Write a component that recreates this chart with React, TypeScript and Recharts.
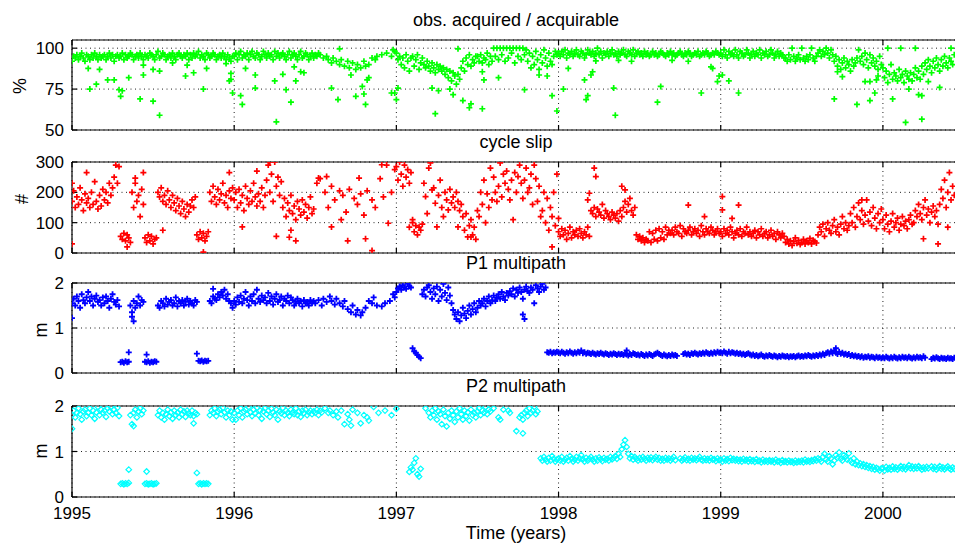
import React from 'react';
import { ScatterChart, Scatter, XAxis, YAxis, CartesianGrid } from 'recharts';

// ---------- tick labels / categories ----------
const YEAR_TICKS = [1995, 1996, 1997, 1998, 1999, 2000];
const ACQ_TICKS = [50, 75, 100];
const SLIP_TICKS = [0, 100, 200, 300];
const MP_TICKS = [0, 1, 2];
const TITLES = ['obs. acquired / acquirable', 'cycle slip', 'P1 multipath', 'P2 multipath'];

// ---------- data: values sampled every 0.01 year from the start of each year ----------
const acq1995 = [92,95,94,96,93,95,97,94,92,96,95,93,96,94,97,95,93,96,94,95,96,93,95,97,94,96,92,95,96,94,
95,97,93,96,94,95,97,96,93,95,96,94,97,95,93,96,95,94,97,96,95,93,96,98,94,95,97,96,93,95,
96,94,97,95,93,96,97,95,94,96,95,97,93,96,94,97,95,96,98,94,96,95,93,97,96,94,95,97,96,93,95,96,94,97,95,93,96,94,92,95];
const acq1996 = [95,97,93,96,98,94,96,95,97,93,96,98,95,94,97,96,93,95,98,96,94,97,95,96,93,98,95,97,94,96,
97,95,93,96,98,94,96,97,95,93,96,98,94,95,97,96,93,95,97,94,96,95,97,
96,null,94,null,95,93,null,91,94,null,92,null,90,93,null,89,null,92,88,null,91,null,87,90,null,88,null,92,89,null,90,null,94,null,93,95,null,
null,96,null,null,97,null,null,95,99,98];
const acq1997 = [97,93,95,90,94,88,96,92,86,94,95,89,93,96,87,91,94,90,88,92,89,86,91,88,85,90,87,89,86,88,
84,87,82,86,80,85,83,78,84,81,88,92,86,94,90,96,89,93,91,95,95,92,96,91,94,93,97,90,95,92,
100,95,100,93,100,96,100,92,100,94,100,97,100,91,100,95,100,93,100,96,99,92,97,88,95,90,98,93,87,96,91,99,94,89,97,92,90,95,98,96];
const acq1998 = [97,95,98,96,99,94,97,96,98,95,97,99,96,95,98,97,94,96,99,97,96,98,95,97,100,96,98,94,97,96,
98,95,97,99,96,97,95,98,96,97,99,96,95,98,97,96,99,95,97,98,96,97,95,98,96,97,95,96,98,96,
97,95,96,98,97,96,95,97,96,98,96,97,95,96,97,98,96,95,97,96,98,97,95,96,97,96,98,95,96,97,96,98,97,95,96,97,96,98,97,96];
const acq1999 = [97,95,99,96,94,98,96,97,95,99,96,94,98,97,95,96,99,97,94,96,98,95,97,96,99,94,97,96,98,95,
96,99,97,94,96,98,95,97,96,94,94,92,96,93,100,95,92,94,96,93,100,94,92,95,93,96,100,94,92,95,
97,99,95,98,96,100,97,94,99,96,92,95,89,93,87,91,94,88,92,90,86,93,89,91,94,99,92,95,90,97,93,88,96,91,94,89,92,87,95,90];
const acq2000 = [88,82,86,79,84,90,81,85,83,80,87,82,84,79,86,83,81,85,80,84,88,82,86,81,89,84,
91,87,93,89,85,92,88,94,90,86,93,89,95,91,88,94,92,90,96];
const acqOutliers: [number, number][] = [
[1995.10,87.6],[1995.11,75],[1995.15,78],[1995.17,87],[1995.22,80.6],[1995.26,80.6],[1995.29,74.6],[1995.31,74],
[1995.35,82],[1995.30,70.6],[1995.42,69],[1995.44,83.6],[1995.44,89.6],[1995.50,67.6],[1995.54,59],[1995.50,87],
[1995.54,86],[1995.62,91],[1995.70,83],[1995.75,85],[1995.81,75],[1995.83,87.6],[1995.71,89.6],[1995.95,90.6],
[1995.97,80],[1995.98,81],[1995.99,72.6],[1995.98,84.6],
[1996.04,71],[1996.05,65.6],[1996.07,87.6],[1996.13,83.6],[1996.13,75.6],[1996.25,80],[1996.26,55],[1996.30,84],
[1996.32,74.6],[1996.35,67],[1996.37,88.6],[1996.38,80],[1996.41,85.6],[1996.43,85],[1996.60,75.6],[1996.64,68.6],
[1996.65,99.6],[1996.72,83.6],[1996.75,70.6],[1996.79,76.6],[1996.80,72],[1996.81,65.6],[1996.82,80.6],[1996.83,82],
[1996.97,72.6],[1996.99,72.6],[1997.00,68.6],[1997.01,75.6],
[1997.22,75.6],[1997.24,60],[1997.26,74],[1997.33,75],[1997.35,71.6],[1997.38,99.6],[1997.41,68],[1997.45,63.6],
[1997.46,66],[1997.53,85.6],[1997.54,80.6],[1997.53,63],[1997.63,82],[1997.79,74.6],[1997.88,83.6],[1997.93,83],
[1997.96,71],[1997.99,61.6],
[1998.03,75],[1998.06,87.6],[1998.16,80.6],[1998.17,68.6],[1998.18,71],[1998.20,83.6],[1998.21,85.6],[1998.34,75.6],
[1998.35,59],[1998.61,67],[1998.63,76.6],[1998.88,72.6],[1998.98,79.6],[1998.99,83],[1998.94,88.6],[1998.95,87.6],
[1998.70,92.6],[1998.80,92],[1998.45,92],[1998.37,92.6],[1998.23,92.2],
[1999.01,83.6],[1999.05,80],[1999.11,72.6],[1999.70,69],[1999.72,85.6],[1999.75,82.6],[1999.84,65.6],[1999.89,79.6],
[1999.92,79.6],[1999.92,68],[1999.95,72.6],[1999.96,80.6],[1999.97,83],
[2000.03,100],[2000.11,100],[2000.20,100],[2000.42,100],[2000.06,69],[2000.14,54.6],[2000.16,75],[2000.22,71.6],
[2000.24,71],[2000.24,56.6],[2000.28,79.6],[2000.35,76]];

const slip1995 = [170,205,150,185,160,215,175,140,195,165,180,150,200,160,235,170,145,190,155,210,
175,200,165,230,190,215,250,290,230,285,55,45,65,40,60,50,35,200,150,230,170,190,120,210,160,
50,35,60,40,55,30,45,50,
200,185,215,170,190,160,205,175,150,190,165,140,180,155,130,170,145,120,160,135,155,175,150,185,
60,45,70,50,65,40,55,70,200,170,220,185,160,210,175,195,230,165,190,150,205,180,215];
const slip1996 = [175,200,150,210,165,190,140,220,180,160,205,170,230,185,155,195,170,215,150,190,
240,290,200,260,170,300,220,250,190,235,150,180,120,165,140,190,130,155,110,170,145,125,175,135,160,115,150,185,130,145,
null,230,null,245,null,null,200,null,150,null,220,null,175,null,null,205,null,190,null,135,
null,210,null,null,180,null,160,null,195,null,125,null,205,null,null,175,null,150,null,null,
245,null,185,null,290,null,null,200,null,275];
const slip1997 = [285,240,300,260,220,290,250,275,230,265,100,70,90,60,85,75,95,
230,186,130,280,297,208,215,164,86,190,240,150,120,200,175,142,210,165,185,150,200,170,140,160,120,75,130,53,90,110,60,85,45,
140,120,200,160,240,100,195,150,280,175,250,200,170,220,297,185,260,230,270,210,175,240,110,265,200,252,290,230,180,240,
280,200,215,260,160,290,245,170,220,120,140,200,100,180,75,150,120,200,90,260];
const slip1998 = [70,55,80,60,75,45,65,85,50,70,60,75,55,80,65,50,70,60,85,55,
140,130,150,120,145,135,125,160,115,140,130,120,110,135,125,115,130,105,140,120,150,170,135,160,180,140,125,150,
60,45,55,40,50,35,45,40,70,35,65,45,75,40,80,50,70,45,85,60,75,65,
75,60,85,70,65,90,55,80,70,65,75,85,60,70,80,65,75,55,90,70,60,80,70,65,85,75,60,70,80,65];
const slip1999 = [70,55,80,65,75,60,85,70,50,65,75,60,80,55,70,65,85,60,70,55,65,75,50,70,60,80,55,65,70,50,
60,75,55,65,45,70,60,50,65,55,35,45,30,40,25,38,50,32,42,28,35,45,30,40,35,48,30,42,38,33,
60,85,70,95,55,80,100,75,65,90,110,70,85,60,95,120,80,100,75,90,
130,100,150,85,120,165,110,140,95,125,175,105,135,90,150,115,80,130,100,145];
const slip2000 = [110,80,125,95,70,105,130,85,100,115,75,95,120,90,105,80,110,125,95,100,
140,120,160,130,110,150,175,125,145,100,135,155,120,140,95,160,210,180,240,150,200,265,175,220,190];
const slipOutliers: [number, number][] = [
[1995.00,30],[1995.00,230],[1995.09,265],[1995.39,247],[1995.44,265],[1995.34,20],[1995.56,75],[1995.81,3],[1995.97,265],
[1996.05,86],[1996.14,270],[1996.22,300],[1996.26,55],[1996.35,75],[1996.38,40],[1996.34,52],[1996.52,247],[1996.57,252],
[1996.60,86],[1996.66,110],[1996.70,40],[1996.77,247],[1996.81,47],[1996.85,8],[1996.91,291],[1996.95,98],
[1997.08,85],[1997.10,110],[1997.38,86],[1997.46,53],[1997.96,20],
[1998.00,114],[1998.22,280],[1998.23,252],[1998.39,220],[1998.41,208],[1998.80,158],[1998.90,120],[1998.18,175],[1998.19,197],
[1999.01,186],[1999.01,142],[1999.11,158],[1999.07,114],[1999.87,175],[2000.25,47],[2000.34,30],[2000.40,85]];

const p1y1995 = [1.55,1.65,1.5,1.7,1.6,1.45,1.75,1.62,1.55,1.68,1.8,1.6,1.7,1.5,1.65,1.72,1.58,1.62,1.5,1.68,
1.55,1.7,1.6,1.45,1.65,1.75,1.58,1.52,1.62,1.48,0.24,0.25,0.23,0.26,0.24,0.25,
1.5,1.35,1.6,1.45,1.55,1.7,1.5,1.62,1.58,0.25,0.24,0.26,0.23,0.25,0.24,0.26,0.25,
1.5,1.45,1.6,1.55,1.48,1.65,1.52,1.58,1.62,1.5,1.55,1.68,1.48,1.6,1.55,1.62,1.5,1.58,1.65,1.52,1.6,1.55,1.5,1.62,1.58,
0.27,0.26,0.28,0.25,0.27,0.26,0.27,1.6,1.55,1.7,1.65,1.62,1.75,1.68,1.8,1.72,1.85,1.65,1.75,1.6,1.55,1.45];
const p1y1996 = [1.6,1.52,1.68,1.58,1.72,1.55,1.65,1.8,1.62,1.5,1.7,1.6,1.75,1.55,1.85,1.65,1.58,1.72,1.62,1.68,
1.55,1.78,1.6,1.7,1.52,1.65,1.75,1.58,1.62,1.7,1.5,1.65,1.6,1.72,1.55,1.68,1.62,1.5,1.58,1.65,
1.55,1.6,1.48,1.62,1.55,1.58,1.5,1.62,1.55,1.6,
1.55,null,1.62,null,1.5,1.65,null,1.58,null,1.7,1.6,null,1.52,1.65,null,1.55,null,1.48,1.6,null,
1.42,null,1.35,1.5,null,1.3,1.4,null,1.28,1.35,null,1.45,null,1.6,null,1.55,1.68,null,1.5,null,
null,1.48,null,1.55,null,null,1.6,null,1.75,1.68];
const p1y1997 = [1.8,1.88,1.92,1.85,1.95,1.9,1.87,1.98,1.93,1.9,0.55,0.48,0.45,0.4,0.36,0.33,
1.75,1.85,1.7,1.9,1.95,1.8,1.65,1.88,1.75,1.92,1.6,1.85,1.7,1.98,1.78,1.62,1.9,1.72,1.55,
1.4,1.3,1.2,1.35,1.15,1.28,1.45,1.32,1.22,1.38,1.5,1.3,1.42,1.55,1.35,
1.45,1.6,1.5,1.55,1.65,1.48,1.6,1.7,1.55,1.62,1.72,1.6,1.68,1.75,1.65,1.8,1.7,1.62,1.78,1.72,
1.82,1.75,1.88,1.7,1.85,1.78,1.9,1.8,1.65,1.85,1.92,1.82,1.78,1.9,1.85,1.55,1.95,1.88,1.8,1.92,
1.98,1.85,1.9,0.46,0.45,0.47,0.44,0.46,0.45,0.47];
const p1y1998 = [0.46,0.44,0.47,0.45,0.43,0.46,0.44,0.48,0.45,0.43,0.46,0.44,0.47,0.45,0.5,0.44,0.46,0.43,0.45,0.44,
0.42,0.45,0.43,0.41,0.44,0.42,0.45,0.43,0.41,0.44,0.42,0.4,0.43,0.41,0.44,0.42,0.4,0.43,0.41,0.42,
0.4,0.43,0.41,0.39,0.42,0.4,0.44,0.42,0.4,0.41,0.39,0.42,0.4,0.38,0.41,0.39,0.42,0.4,0.38,0.41,
0.43,0.45,0.42,0.4,0.38,0.41,0.39,0.37,0.4,0.38,0.41,0.39,0.4,0.38,null,null,null,0.42,0.44,0.41,
0.43,0.4,0.44,0.42,0.45,0.43,0.41,0.44,0.42,0.45,0.43,0.46,0.44,0.42,0.45,0.43,0.46,0.44,0.47,0.45];
const p1y1999 = [0.46,0.44,0.48,0.45,0.43,0.47,0.44,0.46,0.45,0.43,0.45,0.42,0.44,0.41,0.43,0.4,0.42,0.44,0.41,0.39,
0.41,0.38,0.4,0.37,0.39,0.41,0.38,0.36,0.39,0.37,0.4,0.38,0.36,0.39,0.37,0.35,0.38,0.36,0.39,0.37,
0.36,0.38,0.35,0.37,0.36,0.38,0.35,0.37,0.39,0.36,0.38,0.36,0.39,0.37,0.4,0.38,0.36,0.39,0.37,0.4,
0.38,0.41,0.39,0.43,0.4,0.44,0.46,0.43,0.48,0.44,0.5,0.45,0.42,0.47,0.43,0.45,0.41,0.43,0.4,0.42,
0.38,0.4,0.37,0.39,0.36,0.38,0.35,0.37,0.34,0.36,0.35,0.37,0.34,0.36,0.35,0.33,0.36,0.34,0.35,0.33];
const p1y2000 = [0.35,0.33,0.36,0.34,0.32,0.35,0.33,0.36,0.34,0.32,0.35,0.33,0.36,0.34,0.35,0.33,0.36,0.34,0.32,0.35,
0.33,0.36,0.34,0.35,0.33,0.37,0.34,null,null,null,0.31,0.34,0.32,0.35,0.33,0.31,0.34,0.32,0.33,0.31,0.34,0.32,0.33,0.31,0.34];
const p1Outliers: [number, number][] = [[1995.00,1.22],[1995.35,0.46],[1995.38,1.15],[1995.37,1.25],[1995.46,0.41],
[1995.77,0.43],[1995.87,1.87],[1997.78,1.3],[1997.79,1.2],[1998.42,0.5],[1999.71,0.55]];

const p2y1995 = [1.8,1.9,1.75,1.85,1.95,1.82,1.7,1.88,1.92,1.78,1.85,1.95,1.8,1.9,1.72,1.86,1.98,1.8,1.92,1.85,
1.9,1.76,1.95,1.88,1.98,1.82,1.92,1.85,1.96,1.78,0.29,0.3,0.28,0.3,0.29,0.31,
1.8,1.6,1.85,1.92,1.75,1.88,1.95,1.82,1.9,0.29,0.3,0.28,0.29,0.3,0.28,0.29,0.3,
1.8,1.9,1.75,1.85,1.7,1.82,1.92,1.78,1.86,1.72,1.9,1.8,1.85,1.75,1.92,1.82,1.88,1.76,1.9,1.84,1.8,1.9,1.78,1.85,1.82,
0.29,0.3,0.28,0.3,0.29,0.3,0.29,1.8,1.9,1.85,1.95,1.78,1.88,1.92,1.82,1.96,1.86,1.75,1.9,1.8,1.88,1.7];
const p2y1996 = [1.85,1.7,1.9,1.8,1.95,1.75,1.88,1.92,1.82,1.98,1.86,1.78,1.92,1.84,1.96,1.8,1.9,1.72,1.88,1.95,
1.82,1.9,1.76,1.94,1.86,1.8,1.92,1.7,1.88,1.84,1.96,1.8,1.9,1.85,1.78,1.92,1.86,1.82,1.95,1.8,
1.88,1.76,1.9,1.84,1.92,1.8,1.86,1.9,1.82,1.88,1.85,1.92,1.8,1.9,1.86,
null,1.95,null,1.85,1.9,null,1.8,null,1.88,1.75,null,1.9,null,1.6,null,1.82,1.7,null,1.92,null,
null,1.85,null,1.62,null,1.8,null,1.75,1.68,null,null,1.98,null,null,1.85,null,null,null,1.9,null,null,null,1.8,null,null];
const p2y1997 = [1.94,null,null,null,null,null,null,null,0.55,0.65,0.6,0.75,0.85,0.5,0.45,0.62,null,null,1.95,null,
1.85,1.75,1.9,1.8,1.95,1.7,1.88,1.82,1.6,1.92,1.78,1.55,1.85,1.72,1.9,1.8,1.65,1.88,1.75,1.95,
1.82,1.7,1.9,1.78,1.86,1.68,1.92,1.8,1.85,1.75,
1.88,1.95,1.8,1.9,1.85,1.98,1.82,1.92,1.88,null,1.95,null,null,1.75,1.7,null,1.92,null,null,1.9,
1.85,null,null,null,1.45,null,1.75,1.8,1.7,1.85,1.9,1.78,1.95,1.85,1.9,1.98,1.82,1.88,null,0.85,
0.8,0.88,0.82,0.78,0.86,0.8,0.9,0.84,0.78,0.82];
const p2y1998 = [0.85,0.8,0.88,0.78,0.82,0.86,0.8,0.9,0.84,0.78,0.82,0.88,0.8,0.85,0.92,0.83,0.78,0.86,0.8,0.84,
0.88,0.82,0.78,0.85,0.8,0.87,0.83,0.79,0.86,0.82,0.84,0.8,0.88,0.83,0.86,0.9,0.84,0.95,0.88,1.05,
1.15,1.25,1.1,0.95,0.85,0.9,0.82,0.88,0.84,0.8,0.86,0.82,0.88,0.84,0.8,0.86,0.83,0.87,0.81,0.85,
0.88,0.82,0.86,0.8,0.84,0.8,0.86,0.82,0.85,0.8,0.84,0.88,0.81,null,null,0.85,0.8,0.83,0.87,0.81,
0.84,0.8,0.86,0.82,0.85,0.81,0.84,0.88,0.82,0.8,0.85,0.81,0.84,0.8,0.86,0.82,0.83,0.79,0.85,0.81];
const p2y1999 = [0.82,0.78,0.85,0.8,0.83,0.79,0.86,0.81,0.84,0.8,0.83,0.79,0.82,0.78,0.84,0.8,0.82,0.78,0.83,0.79,
0.81,0.77,0.83,0.79,0.8,0.76,0.82,0.78,0.8,0.77,0.81,0.78,0.8,0.76,0.82,0.78,0.79,0.75,0.81,0.77,
0.79,0.76,0.8,0.77,0.78,0.75,0.8,0.76,0.79,0.77,0.8,0.76,0.82,0.78,0.8,0.77,0.81,0.79,0.83,0.8,
0.85,0.82,0.78,0.88,0.95,0.82,0.78,0.9,0.85,0.72,0.8,0.92,0.86,0.98,0.84,0.8,0.92,0.88,0.82,0.96,
0.8,0.75,0.85,0.72,0.78,0.7,0.74,0.68,0.72,0.66,0.7,0.64,0.68,0.62,0.66,0.6,0.64,0.62,0.58,0.63];
const p2y2000 = [0.63,0.58,0.66,0.61,0.64,0.6,0.67,0.62,0.65,0.6,0.64,0.68,0.62,0.66,0.61,0.65,0.7,0.63,0.67,0.62,
0.66,0.63,0.68,0.64,0.6,0.65,0.62,0.66,0.63,null,0.67,0.62,0.66,0.6,0.64,0.68,0.62,0.65,0.61,0.64,0.67,0.63,0.6,0.65,0.62];
const p2Outliers: [number, number][] = [[1995.00,1.5],[1995.35,0.6],[1995.46,0.56],[1995.77,0.53],[1995.38,1.56],
[1995.75,1.62],[1997.78,1.4],[1996.72,1.57]];

// ---------- building the chart tables ----------
type Pt = { x: number; y: number };
const STEP = 0.01;
function fromYears(years: [number, (number | null)[]][], extra: [number, number][]): Pt[] {
  const out: Pt[] = [];
  years.forEach(([start, vals]) => {
    vals.forEach((v, i) => {
      if (v !== null) out.push({ x: +(start + i * STEP).toFixed(3), y: v });
    });
  });
  extra.forEach(([x, y]) => out.push({ x, y }));
  return out;
}

const acqData = fromYears([[1995, acq1995], [1996, acq1996], [1997, acq1997], [1998, acq1998], [1999, acq1999], [2000, acq2000]], acqOutliers);
const slipData = fromYears([[1995, slip1995], [1996, slip1996], [1997, slip1997], [1998, slip1998], [1999, slip1999], [2000, slip2000]], slipOutliers);
const p1Data = fromYears([[1995, p1y1995], [1996, p1y1996], [1997, p1y1997], [1998, p1y1998], [1999, p1y1999], [2000, p1y2000]], p1Outliers);
const p2Data = fromYears([[1995, p2y1995], [1996, p2y1996], [1997, p2y1997], [1998, p2y1998], [1999, p2y1999], [2000, p2y2000]], p2Outliers);

// ---------- marker shapes ----------
const makePlus = (color: string, r: number, w: number) => (props: any) => {
  const { cx, cy } = props;
  if (cx == null || cy == null || isNaN(cx) || isNaN(cy)) return <g />;
  return <path d={`M${cx - r},${cy}h${2 * r}M${cx},${cy - r}v${2 * r}`} stroke={color} strokeWidth={w} fill="none" />;
};
const makeDiamond = (color: string, r: number) => (props: any) => {
  const { cx, cy } = props;
  if (cx == null || cy == null || isNaN(cx) || isNaN(cy)) return <g />;
  return <path d={`M${cx - r},${cy}L${cx},${cy - r}L${cx + r},${cy}L${cx},${cy + r}Z`} stroke={color} strokeWidth={1.2} fill="none" />;
};

const FONT = '"Liberation Sans", Arial, Helvetica, sans-serif';
const CHART_W = 974;
const AXIS_W = 72;
const RIGHT = 10;
const tickStyle = { fontSize: 17, fill: '#000', fontFamily: FONT };

interface PanelProps {
  top: number;
  plotH: number;
  bottom: number;
  data: Pt[];
  domain: [number, number];
  yTicks: number[];
  shape: any;
  color: string;
  showX: boolean;
}

function Panel({ top, plotH, bottom, data, domain, yTicks, shape, color, showX }: PanelProps) {
  const pad = 10;
  return (
    <div style={{ position: 'absolute', left: 0, top: top - pad }}>
      <ScatterChart width={CHART_W} height={pad + plotH + bottom} margin={{ top: pad - 1, right: RIGHT, bottom: bottom - 1, left: 0 }}>
        <CartesianGrid stroke="#222" strokeDasharray="1 3.5" strokeWidth={1} />
        <XAxis
          xAxisId="top"
          orientation="top"
          type="number"
          dataKey="x"
          domain={[1995, 2000.5]}
          ticks={YEAR_TICKS}
          interval={0}
          allowDataOverflow
          height={1}
          tickSize={-5}
          tickFormatter={() => ''}
          axisLine={{ stroke: '#000', strokeWidth: 1.2 }}
          tickLine={{ stroke: '#000', strokeWidth: 1.2 }}
        />
        <XAxis
          type="number"
          dataKey="x"
          domain={[1995, 2000.5]}
          ticks={YEAR_TICKS}
          interval={0}
          allowDataOverflow
          height={1}
          tickSize={-5}
          tickMargin={15}
          tick={tickStyle}
          tickFormatter={(v: number) => (showX ? String(v) : '')}
          axisLine={{ stroke: '#000', strokeWidth: 1.2 }}
          tickLine={{ stroke: '#000', strokeWidth: 1.2 }}
        />
        <YAxis
          type="number"
          dataKey="y"
          domain={domain}
          ticks={yTicks}
          interval={0}
          allowDataOverflow
          width={AXIS_W}
          tickSize={-5}
          tickMargin={13}
          tick={tickStyle}
          axisLine={{ stroke: '#000', strokeWidth: 1.2 }}
          tickLine={{ stroke: '#000', strokeWidth: 1.2 }}
        />
        <Scatter data={data} fill={color} shape={shape} isAnimationActive={false} />
      </ScatterChart>
    </div>
  );
}

export default function App() {
  const txt = { fontFamily: FONT, fill: '#000' } as const;
  return (
    <div style={{ position: 'absolute', left: 0, top: 0, width: 955, height: 548, overflow: 'hidden', background: '#fff' }}>
      <Panel top={40} plotH={90} bottom={10} data={acqData} domain={[50, 105]} yTicks={ACQ_TICKS} shape={makePlus('#00ff00', 3, 1.7)} color="#00ff00" showX={false} />
      <Panel top={162} plotH={91} bottom={10} data={slipData} domain={[0, 300]} yTicks={SLIP_TICKS} shape={makePlus('#ff0000', 3, 1.7)} color="#ff0000" showX={false} />
      <Panel top={283} plotH={90} bottom={10} data={p1Data} domain={[0, 2]} yTicks={MP_TICKS} shape={makePlus('#0000ff', 3, 1.8)} color="#0000ff" showX={false} />
      <Panel top={406} plotH={91} bottom={51} data={p2Data} domain={[0, 2]} yTicks={MP_TICKS} shape={makeDiamond('#00ffff', 2.8)} color="#00ffff" showX={true} />
      <svg width={955} height={548} style={{ position: 'absolute', left: 0, top: 0, pointerEvents: 'none' }}>
        <text x={516} y={26} textAnchor="middle" fontSize={18} {...txt}>{TITLES[0]}</text>
        <text x={516} y={148} textAnchor="middle" fontSize={18} {...txt}>{TITLES[1]}</text>
        <text x={516} y={269} textAnchor="middle" fontSize={18} {...txt}>{TITLES[2]}</text>
        <text x={516} y={392} textAnchor="middle" fontSize={18} {...txt}>{TITLES[3]}</text>
        <text x={516} y={539} textAnchor="middle" fontSize={18} {...txt}>Time (years)</text>
        <text transform="translate(20,86) rotate(-90)" textAnchor="middle" dominantBaseline="central" fontSize={18} {...txt}>%</text>
        <text transform="translate(22,199) rotate(-90)" textAnchor="middle" dominantBaseline="central" fontSize={18} {...txt}>#</text>
        <text transform="translate(41,330) rotate(-90)" textAnchor="middle" dominantBaseline="central" fontSize={18} {...txt}>m</text>
        <text transform="translate(41,451) rotate(-90)" textAnchor="middle" dominantBaseline="central" fontSize={18} {...txt}>m</text>
      </svg>
    </div>
  );
}
